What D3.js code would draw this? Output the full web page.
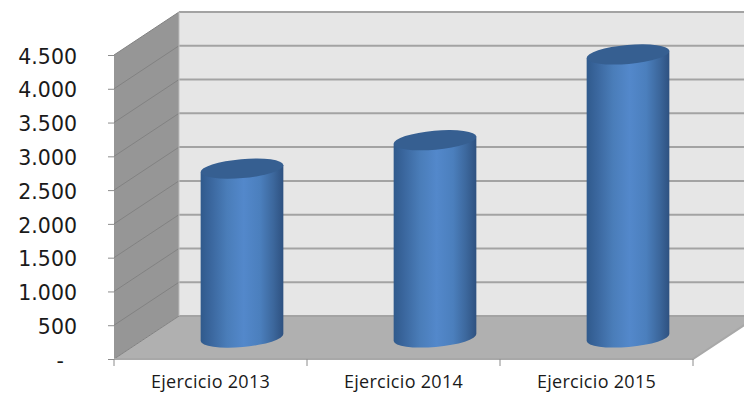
<!DOCTYPE html>
<html>
<head>
<meta charset="utf-8">
<script src="https://cdn.jsdelivr.net/npm/d3@7/dist/d3.min.js"></script>
<style>
html,body{margin:0;padding:0;background:#fff}
svg{display:block}
</style>
</head>
<body>
<svg id="chart" width="744" height="394"></svg>
<script>
const categories = ["Ejercicio 2013", "Ejercicio 2014", "Ejercicio 2015"];
const values = [2500, 2920, 4190];
const tickValues = [0, 500, 1000, 1500, 2000, 2500, 3000, 3500, 4000, 4500];

const svg = d3.select("#chart");
const defs = svg.append("defs");

// Front plane of the 3D box, plus the depth offset of the back wall
const y = d3.scaleLinear().domain([0, 4500]).range([359, 55]);
const x = d3.scaleBand().domain(categories).range([114, 693]).paddingInner(0).paddingOuter(0);
const depth = { dx: 65, dy: -43 };
const domainMax = y.domain()[1];
const [x0, x1] = x.range();

const fmt = d3.formatLocale({ decimal: ",", thousands: ".", grouping: [3], currency: ["", ""] }).format(",d");

const shade = defs.append("linearGradient").attr("id", "cyl").attr("x1", 0).attr("x2", 1).attr("y1", 0).attr("y2", 0);
[[0, "#305a8c"], [0.12, "#3a669d"], [0.32, "#4a7db9"], [0.52, "#5388cb"], [0.72, "#4b7fbd"], [0.88, "#3c679c"], [1, "#2e5180"]]
  .forEach(([o, c]) => shade.append("stop").attr("offset", o).attr("stop-color", c));

// Walls and floor
svg.append("polygon").attr("fill", "#e6e6e6")
  .attr("points", [[x0 + depth.dx, y(domainMax) + depth.dy], [760, y(domainMax) + depth.dy], [760, y(0) + depth.dy], [x0 + depth.dx, y(0) + depth.dy]].join(" "));
svg.append("polygon").attr("fill", "#969696")
  .attr("points", [[x0, y(domainMax)], [x0 + depth.dx, y(domainMax) + depth.dy], [x0 + depth.dx, y(0) + depth.dy], [x0, y(0)]].join(" "));
svg.append("polygon").attr("fill", "#b0b0b0")
  .attr("points", [[x0, y(0)], [x1, y(0)], [x1 + depth.dx, y(0) + depth.dy], [x0 + depth.dx, y(0) + depth.dy]].join(" "));

// Gridlines running along the side wall and across the back wall
const grid = svg.append("g");
grid.selectAll("path.side").data(tickValues).join("path").attr("class", "side")
  .attr("fill", "none").attr("stroke", "#828282").attr("stroke-width", 1)
  .attr("d", d => `M${x0},${y(d)}L${x0 + depth.dx},${y(d) + depth.dy}`);
grid.selectAll("path.back").data(tickValues).join("path").attr("class", "back")
  .attr("fill", "none").attr("stroke", "#a3a3a3").attr("stroke-width", 2)
  .attr("d", d => `M${x0 + depth.dx},${y(d) + depth.dy}L744,${y(d) + depth.dy}`);

grid.append("path").attr("fill", "none").attr("stroke", "#a8a8a8").attr("stroke-width", 2)
  .attr("d", `M${x0},${y(0)}L${x1},${y(0)}L${x1 + depth.dx},${y(0) + depth.dy}`);
grid.append("path").attr("fill", "none").attr("stroke", "#bdbdbd").attr("stroke-width", 1)
  .attr("d", `M${x0 + depth.dx},${y(domainMax) + depth.dy}V${y(0) + depth.dy}`);

// Cylinders stand at mid depth on the floor
const rx = 41.5, ry = 9.5, tilt = -5;
const rad = tilt * Math.PI / 180;
const ex = rx * Math.cos(rad), ey = rx * Math.sin(rad);
const cx = c => x(c) + x.bandwidth() / 2 + depth.dx / 2 - 1;
const midY = v => y(v) + depth.dy / 2;

const bars = svg.append("g").selectAll("g").data(categories.map((c, i) => ({ c, v: values[i] }))).join("g");
bars.append("path").attr("fill", "url(#cyl)")
  .attr("d", d => {
    const xc = cx(d.c), top = midY(d.v), base = midY(0);
    return `M${xc - ex},${top - ey}L${xc + ex},${top + ey}L${xc + ex},${base + ey}` +
      `A${rx},${ry} ${tilt} 0 1 ${xc - ex},${base - ey}Z`;
  });
bars.append("ellipse").attr("fill", "#365f91")
  .attr("rx", rx).attr("ry", ry)
  .attr("transform", d => `translate(${cx(d.c)},${midY(d.v)}) rotate(${tilt})`);

// Axes
const yAxis = d3.axisLeft(y).tickValues(tickValues).tickSize(6).tickPadding(31)
  .tickFormat(d => d === 0 ? "-" : fmt(d));
const yG = svg.append("g").attr("transform", `translate(${x0},0)`).call(yAxis);
yG.select(".domain").remove();
yG.selectAll("line").attr("stroke", "#8c8c8c");
yG.selectAll("text").attr("fill", "#1a1a1a").attr("font-family", "'DejaVu Sans'").attr("font-size", 20.5)
  .attr("dy", "0.4em").attr("dx", d => d === 0 ? -13 : 0);

const xAxis = d3.axisBottom(x).tickSize(0).tickPadding(16);
const xG = svg.append("g").attr("transform", `translate(0,${y(0)})`).call(xAxis);
xG.select(".domain").remove();
xG.selectAll("text").attr("fill", "#1a1a1a").attr("font-family", "'Open Sans'").attr("font-size", 18)
  .attr("letter-spacing", 0.3);

// Separators between categories below the floor edge
svg.append("g").selectAll("line").data([...categories.map(c => x(c)), x1]).join("line")
  .attr("x1", d => d).attr("x2", d => d).attr("y1", y(0)).attr("y2", y(0) + 7)
  .attr("stroke", "#8c8c8c");
</script>
</body>
</html>
